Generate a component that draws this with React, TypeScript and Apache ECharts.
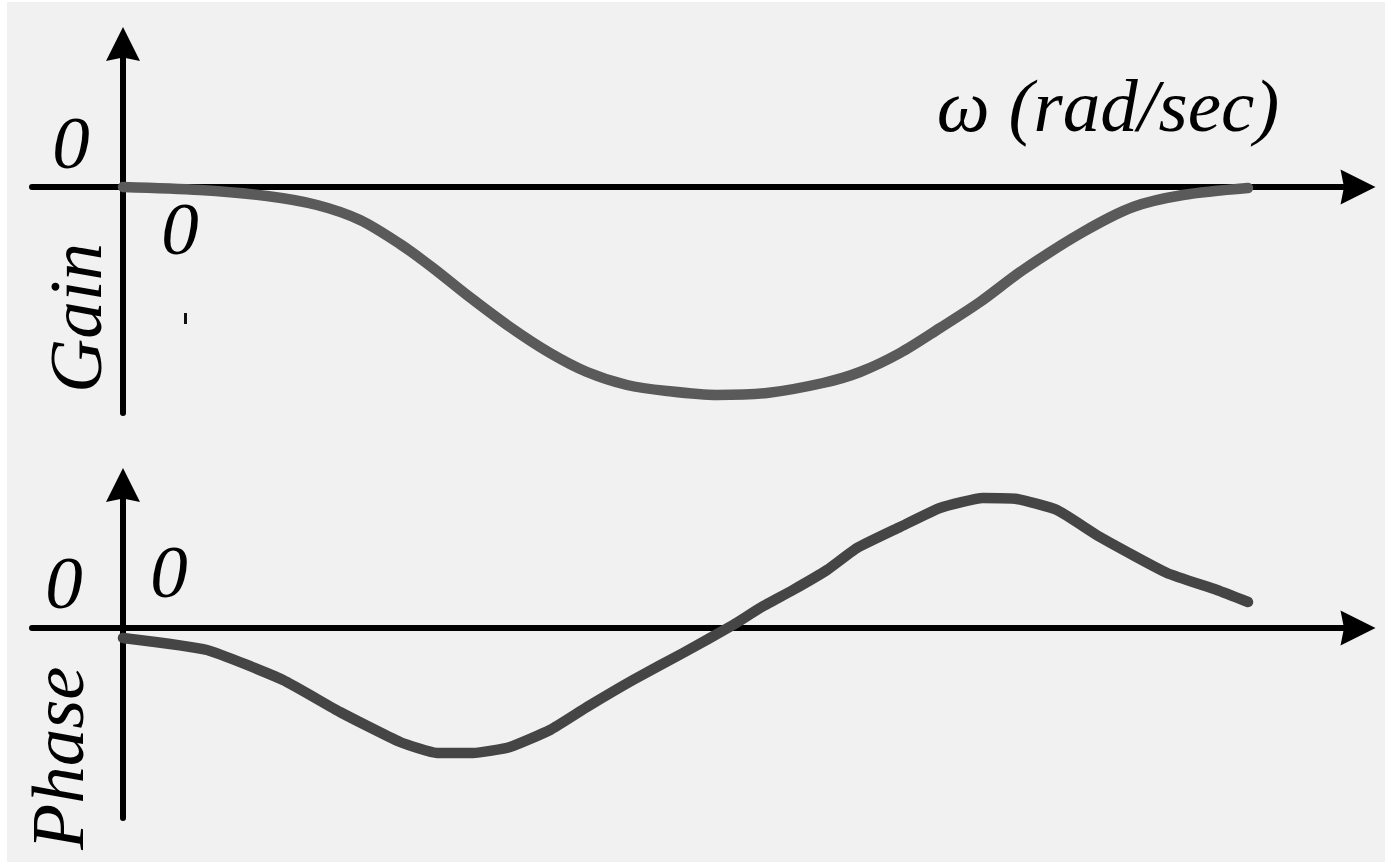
import React, { useEffect, useRef } from "react";
import * as echarts from "echarts";

// Frequency positions (arbitrary units, origin at the vertical axis)
const gainFreq = [0, 77, 144, 194, 237, 277, 310, 344, 387, 427, 464, 504, 544, 594, 644, 700, 737, 777, 817, 857, 900, 960, 1010, 1060, 1125];
const gainValues = [0, -3, -9, -18, -33, -57, -81, -108, -140, -166, -185, -198, -204, -208, -206, -196, -185, -166, -141, -115, -83, -45, -20, -8, -1];

const phaseFreq = [0, 84, 160, 217, 277, 314, 350, 387, 427, 464, 510, 560, 610, 637, 670, 704, 734, 777, 817, 860, 894, 934, 977, 1044, 1094, 1125];
const phaseValues = [-10, -22, -52, -84, -114, -125, -125, -119, -102, -79, -52, -25, 3, 20, 38, 58, 80, 101, 120, 130, 129, 118, 91, 55, 38, 26];

const zeroLabel = "0";
const freqTitle = "ω (rad/sec)";
const gainTitle = "Gain";
const phaseTitle = "Phase";

const ARROW = "path://M50,0 L100,100 L50,90 L0,100 Z";

function App() {
  const ref = useRef<HTMLDivElement>(null);

  useEffect(() => {
    if (!ref.current) return;
    const chart = echarts.init(ref.current, undefined, { renderer: "svg" });

    const axisCommon = (size: number[]) => ({
      type: "value" as const,
      axisLabel: { show: false },
      axisTick: { show: false },
      splitLine: { show: false },
      axisLine: {
        show: true,
        onZero: true,
        symbol: ["none", ARROW],
        symbolSize: size,
        lineStyle: { color: "#000", width: 6 },
      },
    });

    const txt = (text: string, x: number, y: number, rotation = 0) => ({
      type: "text",
      x,
      y,
      rotation,
      z: 10,
      style: {
        text,
        fontFamily: "Liberation Serif",
        fontSize: 75,
        fontStyle: "italic",
        fill: "#000",
        align: "center",
        verticalAlign: "middle",
      },
    });

    chart.setOption({
      animation: false,
      backgroundColor: "#f1f1f1",
      grid: [
        { left: 32, right: 27, top: 44, bottom: 449 },
        { left: 32, right: 27, top: 485, bottom: 44 },
      ],
      xAxis: [
        { ...axisCommon([37, 35]), gridIndex: 0, min: -91, max: 1235 },
        { ...axisCommon([37, 35]), gridIndex: 1, min: -91, max: 1235 },
      ],
      yAxis: [
        { ...axisCommon([36, 34]), gridIndex: 0, min: -226, max: 143 },
        { ...axisCommon([36, 34]), gridIndex: 1, min: -190, max: 143 },
      ],
      series: [
        {
          type: "line",
          xAxisIndex: 0,
          yAxisIndex: 0,
          data: gainFreq.map((f, i) => [f, gainValues[i]]),
          showSymbol: false,
          smooth: 0.3,
          lineStyle: { color: "#5a5a5a", width: 10.5, cap: "round", join: "round" },
          z: 3,
        },
        {
          type: "line",
          xAxisIndex: 1,
          yAxisIndex: 1,
          data: phaseFreq.map((f, i) => [f, phaseValues[i]]),
          showSymbol: false,
          smooth: 0.15,
          lineStyle: { color: "#454545", width: 10.5, cap: "round", join: "round" },
          z: 3,
        },
      ],
      graphic: [
        { type: "rect", x: 0, y: 0, shape: { width: 7, height: 862 }, style: { fill: "#ffffff" }, z: 0 },
        { type: "rect", x: 0, y: 0, shape: { width: 1385, height: 2 }, style: { fill: "#ffffff" }, z: 0 },
        { type: "rect", x: 184, y: 313, shape: { width: 3, height: 11 }, style: { fill: "#111" }, z: 10 },
        txt(zeroLabel, 71, 142),
        txt(zeroLabel, 180, 228),
        txt(zeroLabel, 64, 582),
        txt(zeroLabel, 169, 571),
        txt(freqTitle, 1108, 105),
        txt(gainTitle, 75, 318, Math.PI / 2),
        txt(phaseTitle, 57, 758, Math.PI / 2),
      ],
    });

    return () => chart.dispose();
  }, []);

  return (
    <div
      ref={ref}
      style={{ position: "fixed", left: 0, top: 0, width: 1385, height: 862 }}
    />
  );
}

export default App;
